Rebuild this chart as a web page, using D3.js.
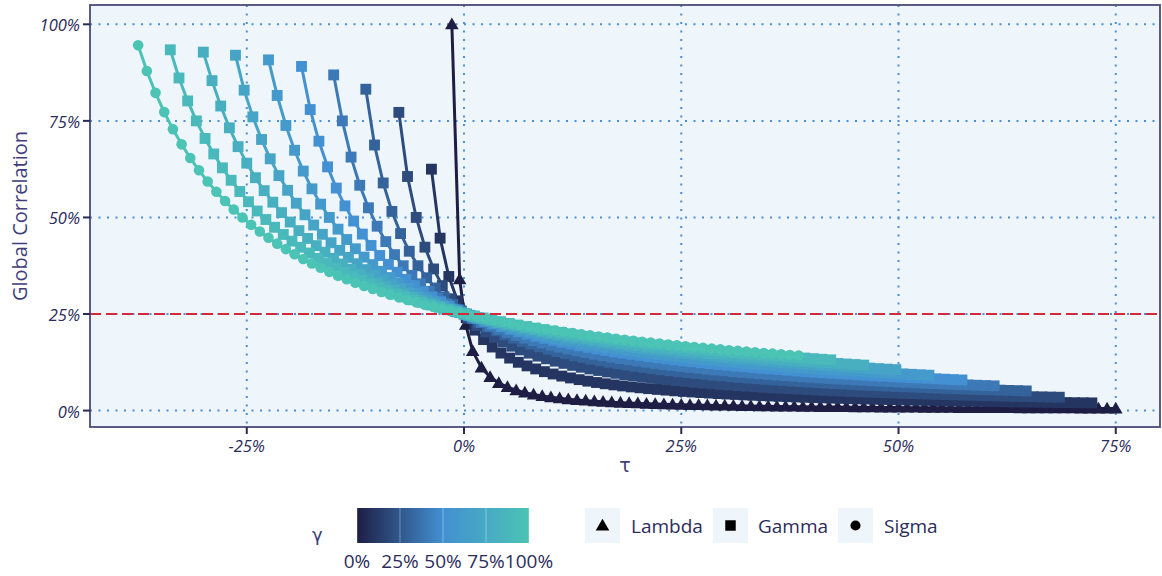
<!DOCTYPE html>
<html><head><meta charset="utf-8">
<script src="https://cdn.jsdelivr.net/npm/d3@7"></script>
<style>
html,body{margin:0;padding:0;background:#ffffff;}
svg{display:block;font-family:"Open Sans","Noto Sans",sans-serif;}
</style></head><body>
<svg id="chart" width="1162" height="576"></svg>
<script>
// ---------------- data ----------------
const gammaLevels = [0, 0.1, 0.2, 0.3, 0.4, 0.5, 0.6, 0.7, 0.8, 0.9, 1.0];
const shapeOfCurve = ["Lambda","Gamma","Gamma","Gamma","Gamma","Gamma","Gamma","Gamma","Gamma","Gamma","Sigma"];
const shapeNames = ["Lambda","Gamma","Sigma"];
const xTicks = [-25, 0, 25, 50, 75];
const yTicks = [0, 25, 50, 75, 100];
const refLevel = [25];
const legendTicks = [0, 0.25, 0.5, 0.75, 1];

const tau_g0 = [-1.4,-0.5,0.2,1,2,3,4,5,6,7,8,9,10,11,12,13,14,15,16,17,18,19,20,21,22,23,24,25,26,27,28,29,30,31,32,33,34,35,36,37,38,39,40,41,42,43,44,45,46,47,48,49,50,51,52,53,54,55,56,57,58,59,60,61,62,63,64,65,66,67,68,69,70,71,72,73,74,75];
const rho_g0 = [100,34,22.2,15.38,11.11,8.7,7.14,6.06,5.26,4.65,4.17,3.77,3.45,3.17,2.94,2.74,2.56,2.41,2.27,2.15,2.04,1.94,1.85,1.77,1.69,1.63,1.56,1.5,1.45,1.4,1.35,1.31,1.27,1.23,1.19,1.16,1.12,1.09,1.06,1.04,1.01,0.99,0.96,0.94,0.92,0.9,0.88,0.86,0.84,0.82,0.81,0.79,0.78,0.76,0.75,0.73,0.72,0.71,0.69,0.68,0.67,0.66,0.65,0.64,0.63,0.62,0.61,0.6,0.59,0.58,0.57,0.57,0.56,0.55,0.54,0.54,0.53,0.52];

const tau_g10 = [-3.75,-2.75,-1.75,-0.75,0.25,1.25,2.25,3.25,4.25,5.25,6.25,7.25,8.25,9.25,10.25,11.25,12.25,13.25,14.25,15.25,16.25,17.25,18.25,19.25,20.25,21.25,22.25,23.25,24.25,25.25,26.25,27.25,28.25,29.25,30.25,31.25,32.25,33.25,34.25,35.25,36.25,37.25,38.25,39.25,40.25,41.25,42.25,43.25,44.25,45.25,46.25,47.25,48.25,49.25,50.25,51.25,52.25,53.25,54.25,55.25,56.25,57.25,58.25,59.25,60.25,61.25,62.25,63.25,64.25,65.25,66.25,67.25,68.25,69.25,70.25,71.25,72.25];
const rho_g10 = [62.5,44.64,34.72,28.41,24.04,20.83,18.38,16.45,14.88,13.59,12.5,11.57,10.78,10.08,9.47,8.93,8.45,8.01,7.62,7.27,6.94,6.65,6.38,6.13,5.9,5.68,5.48,5.3,5.12,4.96,4.81,4.66,4.53,4.4,4.28,4.17,4.06,3.96,3.86,3.77,3.68,3.59,3.51,3.43,3.36,3.29,3.22,3.16,3.09,3.03,2.98,2.92,2.87,2.82,2.77,2.72,2.67,2.63,2.58,2.54,2.5,2.46,2.42,2.39,2.35,2.31,2.28,2.25,2.22,2.19,2.15,2.13,2.1,2.07,2.04,2.02,1.99];

const tau_g20 = [-7.5,-6.5,-5.5,-4.5,-3.5,-2.5,-1.5,-0.5,0.5,1.5,2.5,3.5,4.5,5.5,6.5,7.5,8.5,9.5,10.5,11.5,12.5,13.5,14.5,15.5,16.5,17.5,18.5,19.5,20.5,21.5,22.5,23.5,24.5,25.5,26.5,27.5,28.5,29.5,30.5,31.5,32.5,33.5,34.5,35.5,36.5,37.5,38.5,39.5,40.5,41.5,42.5,43.5,44.5,45.5,46.5,47.5,48.5,49.5,50.5,51.5,52.5,53.5,54.5,55.5,56.5,57.5,58.5,59.5,60.5,61.5,62.5,63.5,64.5,65.5,66.5,67.5,68.5];
const rho_g20 = [77.2,60.6,50,42.31,36.67,32.35,28.95,26.19,23.91,22,20.37,18.97,17.74,16.67,15.71,14.86,14.1,13.41,12.79,12.22,11.7,11.22,10.78,10.38,10,9.65,9.32,9.02,8.73,8.46,8.21,7.97,7.75,7.53,7.33,7.14,6.96,6.79,6.63,6.47,6.32,6.18,6.04,5.91,5.79,5.67,5.56,5.45,5.34,5.24,5.14,5.05,4.95,4.87,4.78,4.7,4.62,4.55,4.47,4.4,4.33,4.26,4.2,4.14,4.07,4.01,3.96,3.9,3.85,3.79,3.74,3.69,3.64,3.59,3.55,3.5,3.46];

const tau_g30 = [-11.3,-10.3,-9.3,-8.3,-7.3,-6.3,-5.3,-4.3,-3.3,-2.3,-1.3,-0.3,0.7,1.7,2.7,3.7,4.7,5.7,6.7,7.7,8.7,9.7,10.7,11.7,12.7,13.7,14.7,15.7,16.7,17.7,18.7,19.7,20.7,21.7,22.7,23.7,24.7,25.7,26.7,27.7,28.7,29.7,30.7,31.7,32.7,33.7,34.7,35.7,36.7,37.7,38.7,39.7,40.7,41.7,42.7,43.7,44.7,45.7,46.7,47.7,48.7,49.7,50.7,51.7,52.7,53.7,54.7,55.7,56.7,57.7,58.7,59.7,60.7,61.7,62.7,63.7,64.7];
const rho_g30 = [83.2,68.75,58.93,51.56,45.83,41.25,37.5,34.38,31.73,29.46,27.5,25.78,24.26,22.92,21.71,20.63,19.64,18.75,17.93,17.19,16.5,15.87,15.28,14.73,14.22,13.75,13.31,12.89,12.5,12.13,11.79,11.46,11.15,10.86,10.58,10.31,10.06,9.82,9.59,9.38,9.17,8.97,8.78,8.59,8.42,8.25,8.09,7.93,7.78,7.64,7.5,7.37,7.24,7.11,6.99,6.88,6.76,6.65,6.55,6.45,6.35,6.25,6.16,6.07,5.98,5.89,5.81,5.73,5.65,5.57,5.5,5.43,5.36,5.29,5.22,5.16,5.09];

const tau_g40 = [-15,-14,-13,-12,-11,-10,-9,-8,-7,-6,-5,-4,-3,-2,-1,0,1,2,3,4,5,6,7,8,9,10,11,12,13,14,15,16,17,18,19,20,21,22,23,24,25,26,27,28,29,30,31,32,33,34,35,36,37,38,39,40,41,42,43,44,45,46,47,48,49,50,51,52,53,54,55,56,57,58,59,60,61];
const rho_g40 = [86.9,75,65.63,58.33,52.5,47.73,43.75,40.38,37.5,35,32.81,30.88,29.17,27.63,26.25,25,23.86,22.83,21.88,21,20.19,19.44,18.75,18.1,17.5,16.94,16.41,15.91,15.44,15,14.58,14.19,13.82,13.46,13.13,12.8,12.5,12.21,11.93,11.67,11.41,11.17,10.94,10.71,10.5,10.29,10.1,9.91,9.72,9.55,9.38,9.21,9.05,8.9,8.75,8.61,8.47,8.33,8.2,8.08,7.95,7.84,7.72,7.61,7.5,7.39,7.29,7.19,7.09,7,6.91,6.82,6.73,6.65,6.56,6.48,6.4];

const tau_g50 = [-18.7,-17.7,-16.7,-15.7,-14.7,-13.7,-12.7,-11.7,-10.7,-9.7,-8.7,-7.7,-6.7,-5.7,-4.7,-3.7,-2.7,-1.7,-0.7,0.3,1.3,2.3,3.3,4.3,5.3,6.3,7.3,8.3,9.3,10.3,11.3,12.3,13.3,14.3,15.3,16.3,17.3,18.3,19.3,20.3,21.3,22.3,23.3,24.3,25.3,26.3,27.3,28.3,29.3,30.3,31.3,32.3,33.3,34.3,35.3,36.3,37.3,38.3,39.3,40.3,41.3,42.3,43.3,44.3,45.3,46.3,47.3,48.3,49.3,50.3,51.3,52.3,53.3,54.3,55.3,56.3,57.3];
const rho_g50 = [89.1,77.94,69.74,63.1,57.61,53,49.07,45.69,42.74,40.15,37.86,35.81,33.97,32.32,30.81,29.44,28.19,27.04,25.98,25,24.09,23.25,22.46,21.72,21.03,20.38,19.78,19.2,18.66,18.15,17.67,17.21,16.77,16.36,15.96,15.59,15.23,14.89,14.56,14.25,13.95,13.66,13.38,13.12,12.86,12.62,12.38,12.16,11.94,11.73,11.52,11.32,11.13,10.95,10.77,10.6,10.43,10.27,10.11,9.96,9.81,9.67,9.53,9.4,9.27,9.14,9.01,8.89,8.78,8.66,8.55,8.44,8.33,8.23,8.13,8.03,7.93];

const tau_g60 = [-22.5,-21.5,-20.5,-19.5,-18.5,-17.5,-16.5,-15.5,-14.5,-13.5,-12.5,-11.5,-10.5,-9.5,-8.5,-7.5,-6.5,-5.5,-4.5,-3.5,-2.5,-1.5,-0.5,0.5,1.5,2.5,3.5,4.5,5.5,6.5,7.5,8.5,9.5,10.5,11.5,12.5,13.5,14.5,15.5,16.5,17.5,18.5,19.5,20.5,21.5,22.5,23.5,24.5,25.5,26.5,27.5,28.5,29.5,30.5,31.5,32.5,33.5,34.5,35.5,36.5,37.5,38.5,39.5,40.5,41.5,42.5,43.5,44.5,45.5,46.5,47.5,48.5,49.5,50.5,51.5,52.5,53.5];
const rho_g60 = [90.8,81.58,73.81,67.39,62,57.41,53.45,50,46.97,44.29,41.89,39.74,37.8,36.05,34.44,32.98,31.64,30.39,29.25,28.18,27.19,26.27,25.41,24.61,23.85,23.13,22.47,21.83,21.23,20.67,20.13,19.62,19.14,18.67,18.24,17.82,17.42,17.03,16.67,16.32,15.98,15.66,15.35,15.05,14.76,14.49,14.22,13.96,13.72,13.48,13.25,13.03,12.81,12.6,12.4,12.2,12.02,11.83,11.65,11.48,11.31,11.15,10.99,10.84,10.69,10.54,10.4,10.26,10.13,10,9.87,9.75,9.63,9.51,9.39,9.28,9.17];

const tau_g70 = [-26.3,-25.3,-24.3,-23.3,-22.3,-21.3,-20.3,-19.3,-18.3,-17.3,-16.3,-15.3,-14.3,-13.3,-12.3,-11.3,-10.3,-9.3,-8.3,-7.3,-6.3,-5.3,-4.3,-3.3,-2.3,-1.3,-0.3,0.7,1.7,2.7,3.7,4.7,5.7,6.7,7.7,8.7,9.7,10.7,11.7,12.7,13.7,14.7,15.7,16.7,17.7,18.7,19.7,20.7,21.7,22.7,23.7,24.7,25.7,26.7,27.7,28.7,29.7,30.7,31.7,32.7,33.7,34.7,35.7,36.7,37.7,38.7,39.7,40.7,41.7,42.7,43.7,44.7,45.7,46.7,47.7,48.7,49.7];
const rho_g70 = [92,82.95,76.04,70.19,65.18,60.83,57.03,53.68,50.69,48.03,45.63,43.45,41.48,39.67,38.02,36.5,35.1,33.8,32.59,31.47,30.42,29.44,28.52,27.65,26.84,26.07,25.35,24.66,24.01,23.4,22.81,22.26,21.73,21.22,20.74,20.28,19.84,19.41,19.01,18.62,18.25,17.89,17.55,17.22,16.9,16.59,16.3,16.01,15.73,15.47,15.21,14.96,14.72,14.48,14.26,14.04,13.83,13.62,13.42,13.22,13.04,12.85,12.67,12.5,12.33,12.17,12.01,11.85,11.7,11.55,11.41,11.27,11.13,11,10.86,10.74,10.61];

const tau_g80 = [-30,-29,-28,-27,-26,-25,-24,-23,-22,-21,-20,-19,-18,-17,-16,-15,-14,-13,-12,-11,-10,-9,-8,-7,-6,-5,-4,-3,-2,-1,0,1,2,3,4,5,6,7,8,9,10,11,12,13,14,15,16,17,18,19,20,21,22,23,24,25,26,27,28,29,30,31,32,33,34,35,36,37,38,39,40,41,42,43,44,45,46];
const rho_g80 = [92.8,85.42,78.85,73.21,68.33,64.06,60.29,56.94,53.95,51.25,48.81,46.59,44.57,42.71,41,39.42,37.96,36.61,35.34,34.17,33.06,32.03,31.06,30.15,29.29,28.47,27.7,26.97,26.28,25.63,25,24.4,23.84,23.3,22.78,22.28,21.81,21.35,20.92,20.5,20.1,19.71,19.34,18.98,18.64,18.3,17.98,17.67,17.37,17.08,16.8,16.53,16.27,16.02,15.77,15.53,15.3,15.07,14.86,14.64,14.44,14.24,14.04,13.85,13.67,13.49,13.31,13.14,12.97,12.81,12.65,12.5,12.35,12.2,12.06,11.92,11.78];

const tau_g90 = [-33.8,-32.8,-31.8,-30.8,-29.8,-28.8,-27.8,-26.8,-25.8,-24.8,-23.8,-22.8,-21.8,-20.8,-19.8,-18.8,-17.8,-16.8,-15.8,-14.8,-13.8,-12.8,-11.8,-10.8,-9.8,-8.8,-7.8,-6.8,-5.8,-4.8,-3.8,-2.8,-1.8,-0.8,0.2,1.2,2.2,3.2,4.2,5.2,6.2,7.2,8.2,9.2,10.2,11.2,12.2,13.2,14.2,15.2,16.2,17.2,18.2,19.2,20.2,21.2,22.2,23.2,24.2,25.2,26.2,27.2,28.2,29.2,30.2,31.2,32.2,33.2,34.2,35.2,36.2,37.2,38.2,39.2,40.2,41.2,42.2];
const rho_g90 = [93.4,86.11,80.17,75,70.45,66.43,62.84,59.62,56.71,54.07,51.67,49.47,47.45,45.59,43.87,42.27,40.79,39.41,38.11,36.9,35.77,34.7,33.7,32.75,31.85,31,30.19,29.43,28.7,28.01,27.35,26.72,26.12,25.55,25,24.47,23.97,23.48,23.02,22.57,22.14,21.73,21.33,20.95,20.58,20.22,19.87,19.54,19.21,18.9,18.6,18.31,18.02,17.75,17.48,17.22,16.97,16.73,16.49,16.26,16.03,15.82,15.6,15.4,15.2,15,14.81,14.62,14.44,14.26,14.09,13.92,13.76,13.6,13.44,13.29,13.14];

const tau_g100 = [-37.5,-36.5,-35.5,-34.5,-33.5,-32.5,-31.5,-30.5,-29.5,-28.5,-27.5,-26.5,-25.5,-24.5,-23.5,-22.5,-21.5,-20.5,-19.5,-18.5,-17.5,-16.5,-15.5,-14.5,-13.5,-12.5,-11.5,-10.5,-9.5,-8.5,-7.5,-6.5,-5.5,-4.5,-3.5,-2.5,-1.5,-0.5,0.5,1.5,2.5,3.5,4.5,5.5,6.5,7.5,8.5,9.5,10.5,11.5,12.5,13.5,14.5,15.5,16.5,17.5,18.5,19.5,20.5,21.5,22.5,23.5,24.5,25.5,26.5,27.5,28.5,29.5,30.5,31.5,32.5,33.5,34.5,35.5,36.5,37.5,38.5];
const rho_g100 = [94.6,87.93,82.26,77.27,72.86,68.92,65.38,62.2,59.3,56.67,54.26,52.04,50,48.11,46.36,44.74,43.22,41.8,40.48,39.23,38.06,36.96,35.92,34.93,34,33.12,32.28,31.48,30.72,30,29.31,28.65,28.02,27.42,26.84,26.29,25.76,25.25,24.76,24.29,23.83,23.39,22.97,22.57,22.17,21.79,21.43,21.07,20.73,20.4,20.08,19.77,19.47,19.17,18.89,18.61,18.35,18.09,17.83,17.59,17.35,17.11,16.89,16.67,16.45,16.24,16.04,15.84,15.64,15.45,15.27,15.09,14.91,14.74,14.57,14.41,14.25];

const tauByCurve = [tau_g0, tau_g10, tau_g20, tau_g30, tau_g40, tau_g50, tau_g60, tau_g70, tau_g80, tau_g90, tau_g100];
const rhoByCurve = [rho_g0, rho_g10, rho_g20, rho_g30, rho_g40, rho_g50, rho_g60, rho_g70, rho_g80, rho_g90, rho_g100];

// ---------------- build series ----------------
const series = gammaLevels.map((g, k) => {
  const t = tauByCurve[k], r = rhoByCurve[k];
  const n = Math.min(t.length, r.length);
  const pts = [];
  for (let i = 0; i < n; i++) pts.push({t: t[i], r: r[i]});
  return {gamma: g, shape: shapeOfCurve[k], pts};
});

// ---------------- layout ----------------
const svg = d3.select("#chart");
const P = {left: 90, right: 1160, top: 5, bottom: 427};
const x = d3.scaleLinear().domain([-43.04, 80.09]).range([P.left, P.right]);
const y = d3.scaleLinear().domain([-4.25, 105]).range([P.bottom, P.top]);
const color = d3.scaleLinear().domain([0, 0.5, 1]).range(["#1e1e45", "#4390d2", "#4bc3b5"]);
const symType = {Lambda: d3.symbolTriangle, Gamma: d3.symbolSquare, Sigma: d3.symbolCircle};
const symSize = {Lambda: 80, Gamma: 118, Sigma: 88};
const textDark = "#2c2c5a";
const titleCol = "#3e3e7a";
const greekFont = "'DejaVu Sans', sans-serif";

// panel
svg.append("rect").attr("x", P.left).attr("y", P.top)
  .attr("width", P.right - P.left).attr("height", P.bottom - P.top)
  .attr("fill", "#eff6fb");

const defs = svg.append("defs");
defs.append("clipPath").attr("id", "pclip")
  .append("rect").attr("x", P.left).attr("y", P.top)
  .attr("width", P.right - P.left).attr("height", P.bottom - P.top);

const grid = svg.append("g").attr("stroke", "#4a8fd7").attr("stroke-width", 2)
  .attr("stroke-dasharray", "2 6.5").attr("fill", "none");
grid.selectAll("line.v").data(xTicks).join("line")
  .attr("x1", d => x(d)).attr("x2", d => x(d)).attr("y1", P.top).attr("y2", P.bottom);
grid.selectAll("line.h").data(yTicks).join("line")
  .attr("y1", d => y(d)).attr("y2", d => y(d)).attr("x1", P.left).attr("x2", P.right);

// curves
const plot = svg.append("g").attr("clip-path", "url(#pclip)");
const line = d3.line().x(d => x(d.t)).y(d => y(d.r));
plot.append("g").selectAll("path").data(series).join("path")
  .attr("d", d => line(d.pts)).attr("fill", "none")
  .attr("stroke", d => color(d.gamma)).attr("stroke-width", 3)
  .attr("stroke-linejoin", "round");

const ptsG = plot.append("g");
series.forEach(s => {
  const sym = d3.symbol().type(symType[s.shape]).size(symSize[s.shape]);
  ptsG.append("g").selectAll("path").data(s.pts).join("path")
    .attr("transform", d => `translate(${x(d.t)},${y(d.r) + (s.shape === "Lambda" ? 1 : 0)})`)
    .attr("d", sym()).attr("fill", color(s.gamma));
});

// reference line
svg.append("g").selectAll("line").data(refLevel).join("line")
  .attr("x1", P.left).attr("x2", P.right).attr("y1", d => y(d)).attr("y2", d => y(d))
  .attr("stroke", "#d3293a").attr("stroke-width", 2).attr("stroke-dasharray", "11 5");

// panel border
svg.append("rect").attr("x", P.left).attr("y", P.top)
  .attr("width", P.right - P.left).attr("height", P.bottom - P.top)
  .attr("fill", "none").attr("stroke", "#4a4a7a").attr("stroke-width", 1.8);

// axes ticks + labels
const yAx = svg.append("g");
yAx.selectAll("line").data(yTicks).join("line")
  .attr("x1", P.left - 7).attr("x2", P.left).attr("y1", d => y(d)).attr("y2", d => y(d))
  .attr("stroke", "#2b2b55").attr("stroke-width", 2);
yAx.selectAll("text").data(yTicks).join("text")
  .attr("x", 80).attr("y", d => y(d) + 7).attr("text-anchor", "end")
  .attr("font-size", 16.5).attr("font-style", "italic").attr("fill", textDark)
  .text(d => d + "%");

const xAx = svg.append("g");
xAx.selectAll("line").data(xTicks).join("line")
  .attr("x1", d => x(d)).attr("x2", d => x(d)).attr("y1", P.bottom).attr("y2", P.bottom + 7)
  .attr("stroke", "#2b2b55").attr("stroke-width", 2);
xAx.selectAll("text").data(xTicks).join("text")
  .attr("x", d => x(d)).attr("y", 452).attr("text-anchor", "middle")
  .attr("font-size", 16.5).attr("font-style", "italic").attr("fill", textDark)
  .text(d => d + "%");

svg.append("text").attr("transform", `translate(27,${(P.top + P.bottom) / 2}) rotate(-90)`)
  .attr("text-anchor", "middle").attr("font-size", 20).attr("fill", titleCol)
  .text("Global Correlation");
svg.append("text").attr("x", (P.left + P.right) / 2).attr("y", 472)
  .attr("text-anchor", "middle").attr("font-size", 19).attr("fill", titleCol)
  .attr("font-family", greekFont).text("τ");

// ---------------- legend ----------------
const lg = svg.append("g");
lg.append("text").attr("x", 312).attr("y", 541).attr("font-size", 18).attr("fill", titleCol)
  .attr("font-family", greekFont).text("γ");
const cb = d3.scaleLinear().domain([0, 1]).range([357, 529]);
const grad = defs.append("linearGradient").attr("id", "cbgrad")
  .attr("x1", "0%").attr("x2", "100%").attr("y1", "0%").attr("y2", "0%");
d3.range(0, 1.0001, 0.05).forEach(v => grad.append("stop")
  .attr("offset", (v * 100) + "%").attr("stop-color", color(v)));
lg.append("rect").attr("x", cb(0)).attr("y", 508).attr("width", cb(1) - cb(0)).attr("height", 35)
  .attr("fill", "url(#cbgrad)");
lg.selectAll("line.cbt").data(legendTicks).join("line")
  .attr("x1", d => cb(d)).attr("x2", d => cb(d)).attr("y1", 508).attr("y2", 543)
  .attr("stroke", "#ffffff").attr("stroke-opacity", 0.35).attr("stroke-width", 1);
lg.selectAll("text.cbl").data(legendTicks).join("text")
  .attr("x", d => cb(d)).attr("y", 568).attr("text-anchor", "middle")
  .attr("font-size", 19).attr("fill", textDark).text(d => Math.round(d * 100) + "%");

const keyX = [585, 713, 838];
const labX = [631, 758, 884];
shapeNames.forEach((nm, i) => {
  lg.append("rect").attr("x", keyX[i]).attr("y", 508).attr("width", 35).attr("height", 35)
    .attr("fill", "#eef6fb");
  lg.append("path")
    .attr("transform", `translate(${keyX[i] + 17.5},${525.5 + (nm === "Lambda" ? 1 : 0)})`)
    .attr("d", d3.symbol().type(symType[nm]).size(nm === "Lambda" ? 80 : (nm === "Gamma" ? 110 : 80))())
    .attr("fill", "#000000");
  lg.append("text").attr("x", labX[i]).attr("y", 533).attr("font-size", 19)
    .attr("fill", textDark).text(nm);
});
</script>
</body></html>
